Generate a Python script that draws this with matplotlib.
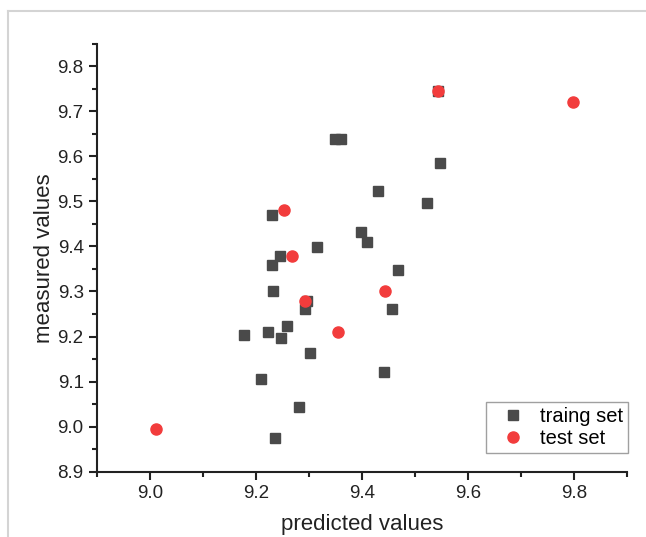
import matplotlib
matplotlib.use("Agg")
import matplotlib.pyplot as plt
from matplotlib.lines import Line2D
from matplotlib.ticker import MultipleLocator

plt.rcParams['font.family'] = ['Liberation Sans', 'DejaVu Sans']

# training set (square markers)
train_pred = [9.348, 9.361, 9.547, 9.430, 9.523, 9.230, 9.398, 9.410, 9.315,
              9.245, 9.230, 9.468, 9.232, 9.296, 9.292, 9.456, 9.258, 9.222,
              9.177, 9.247, 9.301, 9.442, 9.209, 9.282, 9.235, 9.543]
train_meas = [9.638, 9.638, 9.585, 9.524, 9.496, 9.469, 9.433, 9.410, 9.399,
              9.379, 9.358, 9.348, 9.302, 9.280, 9.261, 9.261, 9.224, 9.210,
              9.203, 9.196, 9.163, 9.122, 9.105, 9.043, 8.974, 9.745]

# test set (circle markers)
test_pred = [9.543, 9.797, 9.253, 9.268, 9.443, 9.293, 9.354, 9.011]
test_meas = [9.744, 9.721, 9.482, 9.378, 9.302, 9.278, 9.210, 8.994]

fig = plt.figure(figsize=(6.46, 5.37), dpi=100)
ax = fig.add_axes([0.150, 0.1216, 0.821, 0.797])

ax.plot(train_pred, train_meas, 's', color='#4a4a4a', markersize=7,
        linestyle='none', label='traing set')
ax.plot(test_pred, test_meas, 'o', color='#f23c3c', markersize=8,
        linestyle='none', label='test set')

ax.set_xlim(8.9, 9.9)
ax.set_ylim(8.9, 9.85)
ax.xaxis.set_major_locator(MultipleLocator(0.2))
ax.xaxis.set_minor_locator(MultipleLocator(0.1))
ax.yaxis.set_major_locator(MultipleLocator(0.1))
ax.yaxis.set_minor_locator(MultipleLocator(0.05))
ax.set_xticks([9.0, 9.2, 9.4, 9.6, 9.8])

for side in ['top', 'right']:
    ax.spines[side].set_visible(False)
for side in ['left', 'bottom']:
    ax.spines[side].set_linewidth(1.5)
    ax.spines[side].set_color('#222222')

ax.tick_params(which='major', direction='out', length=5.5, width=1.5,
               labelsize=13.5, colors='#222222', pad=4)
ax.tick_params(which='minor', direction='out', length=3.5, width=1.5,
               colors='#222222')

ax.set_xlabel('predicted values', fontsize=16, color='#222222', labelpad=9)
ax.set_ylabel('measured values', fontsize=16, color='#222222', labelpad=2)

# legend box: lower right corner placed at about (628, 453) px
leg = ax.legend(loc='lower right', bbox_to_anchor=(628 / 646, 1 - 453 / 537),
                bbox_transform=fig.transFigure, borderaxespad=0,
                fontsize=14.5, frameon=True, fancybox=False,
                borderpad=0.25, handlelength=2.1, handletextpad=0.3,
                labelspacing=0.15)
leg.get_frame().set_edgecolor('#888888')
leg.get_frame().set_linewidth(1.0)

# light screenshot border on top and left
fig.add_artist(Line2D([8 / 646, 1.0], [1 - 11 / 537, 1 - 11 / 537],
                      color='#d4d4d4', linewidth=1.5))
fig.add_artist(Line2D([8 / 646, 8 / 646], [0.0, 1 - 11 / 537],
                      color='#d4d4d4', linewidth=1.5))

fig.savefig('out.png', dpi=100)
